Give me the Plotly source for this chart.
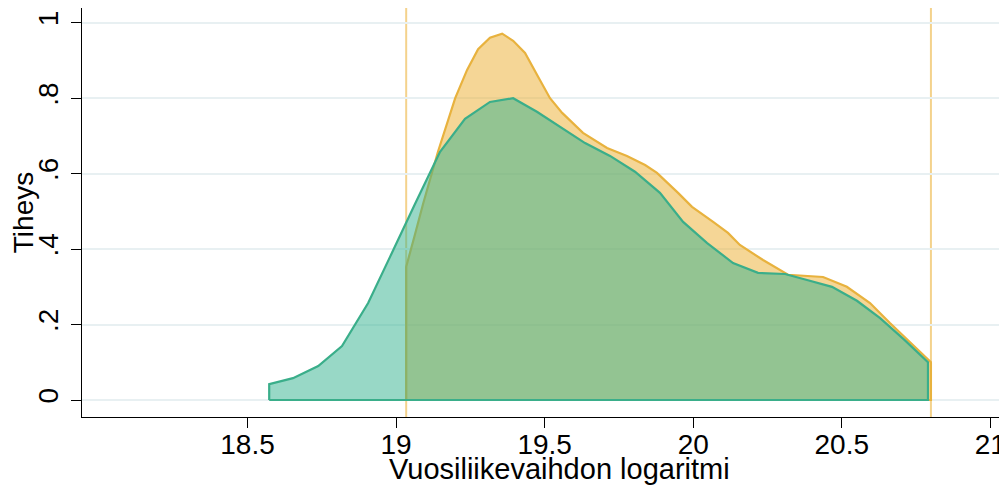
import plotly.graph_objects as go

# ---- data ----
orange_x = [19.034, 19.064, 19.091, 19.141, 19.199, 19.239, 19.276, 19.316, 19.357,
            19.394, 19.434, 19.478, 19.518, 19.559, 19.629, 19.710, 19.777, 19.838,
            19.878, 19.949, 19.996, 20.067, 20.117, 20.157, 20.235, 20.319, 20.437,
            20.517, 20.595, 20.662, 20.800]
orange_y = [0.353, 0.44, 0.52, 0.658, 0.80, 0.875, 0.93, 0.96, 0.971,
            0.952, 0.92, 0.857, 0.80, 0.761, 0.708, 0.668, 0.647, 0.623,
            0.602, 0.549, 0.512, 0.472, 0.443, 0.411, 0.371, 0.332, 0.326,
            0.30, 0.257, 0.204, 0.10]

teal_x = [18.573, 18.653, 18.738, 18.818, 18.906, 18.980, 19.037, 19.064, 19.148,
          19.232, 19.316, 19.394, 19.474, 19.552, 19.636, 19.720, 19.804, 19.888,
          19.966, 20.047, 20.134, 20.218, 20.309, 20.383, 20.467, 20.551, 20.629,
          20.710, 20.790]
teal_y = [0.042, 0.058, 0.09, 0.143, 0.257, 0.38, 0.477, 0.52, 0.658,
          0.745, 0.79, 0.80, 0.764, 0.725, 0.681, 0.647, 0.605, 0.549,
          0.472, 0.416, 0.363, 0.337, 0.334, 0.318, 0.30, 0.263, 0.217,
          0.16, 0.10]

xlines = [19.034, 20.800]

x_ticks = [18.5, 19, 19.5, 20, 20.5, 21]
x_ticktext = ["18.5", "19", "19.5", "20", "20.5", "21"]
y_ticks = [0, 0.2, 0.4, 0.6, 0.8, 1.0]
y_ticktext = ["0", ".2", ".4", ".6", ".8", "1"]

x_title = "Vuosiliikevaihdon logaritmi"
y_title = "Tiheys"

FONT = "Liberation Sans, Arial, sans-serif"


def closed(xs, ys):
    return [xs[0]] + list(xs) + [xs[-1], xs[0]], [0] + list(ys) + [0, 0]


fig = go.Figure()

ox, oy = closed(orange_x, orange_y)
fig.add_trace(go.Scatter(
    x=ox, y=oy, mode="lines", fill="toself",
    fillcolor="rgba(235,173,45,0.5)",
    line=dict(color="rgb(232,178,62)", width=2.2),
    hoverinfo="skip", showlegend=False))

tx, ty = closed(teal_x, teal_y)
fig.add_trace(go.Scatter(
    x=tx, y=ty, mode="lines", fill="toself",
    fillcolor="rgba(49,177,141,0.5)",
    line=dict(color="rgb(58,174,138)", width=2.2),
    hoverinfo="skip", showlegend=False))

for xv in xlines:
    fig.add_shape(type="line", xref="x", yref="paper", x0=xv, x1=xv, y0=0, y1=1,
                  line=dict(color="rgba(235,173,45,0.55)", width=2), layer="below")

fig.add_annotation(text=x_title, xref="paper", yref="paper", x=0.5157, y=-0.083,
                   xanchor="center", yanchor="top", showarrow=False,
                   font=dict(family=FONT, size=29, color="black"))

# page body has an 8px margin, so the figure is sized/offset to compensate
fig.update_layout(
    width=999, height=478,
    margin=dict(l=74, r=0, t=0, b=69, autoexpand=False),
    paper_bgcolor="white", plot_bgcolor="white",
    font=dict(family=FONT, size=28, color="black"),
    xaxis=dict(range=[17.943, 21.056], tickvals=x_ticks, ticktext=x_ticktext,
               automargin=False, ticklabelstandoff=-8,
               showgrid=False, zeroline=False, showline=True, linecolor="black",
               linewidth=1.3, ticks="outside", ticklen=10, tickwidth=1.3,
               tickcolor="black", tickfont=dict(family=FONT, size=28)),
    yaxis=dict(range=[-0.045, 1.039], tickvals=y_ticks, ticktext=y_ticktext,
               automargin=False, ticklabelstandoff=2,
               showgrid=True, gridcolor="#e8f0f2", gridwidth=1.6,
               zeroline=False, showline=True, linecolor="black", linewidth=1.3,
               ticks="outside", ticklen=10, tickwidth=1.3, tickcolor="black",
               tickangle=-90, tickfont=dict(family=FONT, size=28),
               title=dict(text=y_title, standoff=9,
                          font=dict(family=FONT, size=28))),
)

fig.write_html("out.html")
